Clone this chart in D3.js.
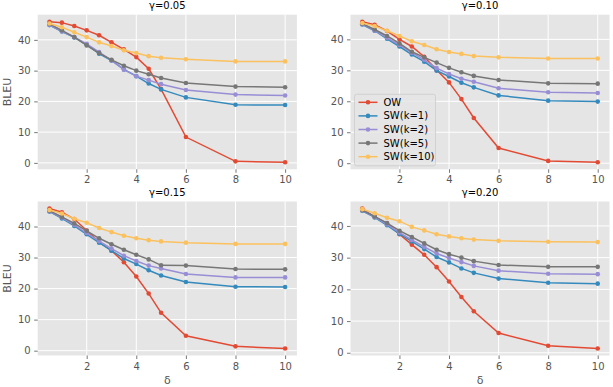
<!DOCTYPE html>
<html>
<head>
<meta charset="utf-8">
<script src="https://cdn.jsdelivr.net/npm/d3@7"></script>
<style>
body { margin: 0; background: #fff; }
text { font-family: "DejaVu Sans", sans-serif; }
</style>
</head>
<body>
<svg id="chart" width="613" height="387"></svg>
<script>
// x values (delta)
const deltas = [0.5, 1, 1.5, 2, 2.5, 3, 3.5, 4, 4.5, 5, 6, 8, 10];
const seriesNames = ["OW", "SW(k=1)", "SW(k=2)", "SW(k=5)", "SW(k=10)"];
const seriesColors = ["#E24A33", "#348ABD", "#988ED5", "#777777", "#FBC15E"];
const gammas = ["γ=0.05", "γ=0.10", "γ=0.15", "γ=0.20"];
const xTicks = [2, 4, 6, 8, 10];
const yTicks = [0, 10, 20, 30, 40];

// gamma = 0.05
const ow_005  = [45.9, 45.6, 44.5, 43.1, 41.5, 39.2, 36.9, 34.4, 30.6, 24.0, 8.4, 0.5, 0.2];
const sw1_005 = [44.8, 42.7, 40.8, 38.4, 35.5, 33.3, 30.4, 28.2, 25.8, 23.9, 21.3, 18.9, 18.8];
const sw2_005 = [44.9, 42.8, 40.9, 38.7, 36.0, 33.3, 30.3, 28.2, 26.9, 25.6, 23.7, 22.2, 21.9];
const sw5_005 = [45.2, 43.1, 40.9, 38.2, 35.7, 33.5, 31.6, 30.0, 28.8, 27.6, 26.0, 24.8, 24.6];
const sw10_005 = [45.3, 44.1, 42.5, 40.9, 39.2, 38.0, 36.6, 35.7, 34.7, 34.2, 33.7, 33.0, 33.0];

// gamma = 0.10
const ow_010  = [45.7, 44.7, 42.7, 40.0, 37.7, 34.4, 30.1, 26.1, 20.7, 14.6, 4.9, 0.75, 0.3];
const sw1_010 = [44.8, 42.8, 40.2, 37.7, 35.1, 32.8, 29.9, 28.0, 26.0, 24.5, 21.9, 20.2, 19.9];
const sw2_010 = [44.9, 42.9, 40.5, 38.2, 35.7, 33.4, 30.7, 28.8, 27.3, 26.3, 24.2, 22.9, 22.7];
const sw5_010 = [45.1, 43.2, 41.1, 38.7, 36.0, 34.2, 32.5, 30.8, 29.4, 28.2, 26.9, 25.8, 25.7];
const sw10_010 = [45.3, 44.3, 42.8, 41.1, 39.4, 38.2, 36.8, 35.9, 35.3, 34.6, 34.2, 33.8, 33.8];

// gamma = 0.15
const ow_015  = [45.8, 44.6, 42.4, 38.7, 35.0, 32.2, 28.5, 23.9, 18.4, 12.2, 4.8, 1.4, 0.7];
const sw1_015 = [44.8, 42.6, 40.2, 37.5, 34.8, 32.2, 29.7, 27.9, 25.9, 24.2, 22.1, 20.6, 20.5];
const sw2_015 = [44.9, 42.9, 40.5, 37.9, 35.3, 32.9, 30.6, 28.9, 27.4, 26.5, 24.7, 23.6, 23.6];
const sw5_015 = [45.1, 43.1, 41.0, 38.6, 36.2, 34.3, 32.5, 30.9, 29.4, 27.5, 27.4, 26.3, 26.2];
const sw10_015 = [45.3, 44.2, 42.5, 41.2, 39.5, 38.2, 37.0, 36.2, 35.6, 35.2, 34.8, 34.4, 34.4];

// gamma = 0.20
const ow_020  = [45.5, 42.8, 40.8, 37.4, 34.1, 30.9, 27.0, 22.5, 17.6, 13.1, 6.25, 2.2, 1.35];
const sw1_020 = [44.8, 42.7, 40.2, 37.5, 35.1, 32.7, 30.2, 28.5, 26.6, 25.2, 23.4, 22.1, 21.8];
const sw2_020 = [44.9, 42.9, 40.5, 37.9, 35.6, 33.4, 31.3, 29.9, 28.6, 27.4, 25.9, 24.9, 24.8];
const sw5_020 = [45.0, 43.0, 40.9, 38.5, 36.5, 34.5, 32.5, 31.1, 30.0, 28.9, 27.7, 27.1, 27.1];
const sw10_020 = [45.3, 44.0, 42.6, 41.5, 39.7, 38.6, 37.4, 36.7, 36.1, 35.7, 35.3, 35.0, 34.9];

const panelData = [
  [ow_005, sw1_005, sw2_005, sw5_005, sw10_005],
  [ow_010, sw1_010, sw2_010, sw5_010, sw10_010],
  [ow_015, sw1_015, sw2_015, sw5_015, sw10_015],
  [ow_020, sw1_020, sw2_020, sw5_020, sw10_020]
];

// layout of the 2x2 grid
const cols = [[37.7, 296.9], [350.5, 609.5]];
const rows = [[14.7, 169.3], [201.5, 355.5]];

const svg = d3.select("#chart");

// matplotlib-like autoscale with 5% margins
function padded(ext) {
  const r = ext[1] - ext[0];
  return [ext[0] - 0.05 * r, ext[1] + 0.05 * r];
}

gammas.forEach(function(title, p) {
  const col = p % 2, row = Math.floor(p / 2);
  const x0 = cols[col][0], x1 = cols[col][1];
  const y0 = rows[row][0], y1 = rows[row][1];
  const series = panelData[p];

  const x = d3.scaleLinear().domain(padded(d3.extent(deltas))).range([x0, x1]);
  const allY = [].concat.apply([], series);
  const y = d3.scaleLinear().domain(padded(d3.extent(allY))).range([y1, y0]);

  const g = svg.append("g");

  // background
  g.append("rect")
    .attr("x", x0).attr("y", y0)
    .attr("width", x1 - x0).attr("height", y1 - y0)
    .attr("fill", "#E5E5E5");

  // grid
  g.selectAll("line.gx").data(xTicks).enter().append("line")
    .attr("x1", d => x(d)).attr("x2", d => x(d))
    .attr("y1", y0).attr("y2", y1)
    .attr("stroke", "#fff").attr("stroke-width", 1);
  g.selectAll("line.gy").data(yTicks).enter().append("line")
    .attr("y1", d => y(d)).attr("y2", d => y(d))
    .attr("x1", x0).attr("x2", x1)
    .attr("stroke", "#fff").attr("stroke-width", 1);

  // axes
  const xAxis = d3.axisBottom(x).tickValues(xTicks).tickSize(3.5).tickPadding(3.5);
  const yAxis = d3.axisLeft(y).tickValues(yTicks).tickSize(3.5).tickPadding(3.5);
  const gx = g.append("g").attr("transform", "translate(0," + y1 + ")").call(xAxis);
  const gy = g.append("g").attr("transform", "translate(" + x0 + ",0)").call(yAxis);
  [gx, gy].forEach(function(a) {
    a.select(".domain").remove();
    a.selectAll(".tick line").attr("stroke", "#555").attr("stroke-width", 0.8);
    a.selectAll(".tick text").attr("fill", "#555").style("font-size", "10px")
      .style("font-family", "DejaVu Sans, sans-serif");
  });

  // title
  g.append("text")
    .attr("x", (x0 + x1) / 2).attr("y", y0 - 6)
    .attr("text-anchor", "middle")
    .style("font-size", "10px").attr("fill", "#000")
    .text(title);

  if (col === 0) {
    g.append("text")
      .attr("transform", "translate(10.5," + ((y0 + y1) / 2) + ") rotate(-90)")
      .attr("text-anchor", "middle")
      .style("font-size", "11px").attr("fill", "#555")
      .text("BLEU");
  }
  if (row === 1) {
    g.append("text")
      .attr("x", (x0 + x1) / 2).attr("y", 384)
      .attr("text-anchor", "middle")
      .style("font-size", "11px").attr("fill", "#555")
      .text("δ");
  }

  const line = d3.line().x((d, i) => x(deltas[i])).y(d => y(d));

  series.forEach(function(vals, s) {
    const sg = g.append("g");
    sg.append("path")
      .attr("d", line(vals))
      .attr("fill", "none")
      .attr("stroke", seriesColors[s])
      .attr("stroke-width", 1.5);
    sg.selectAll("circle").data(vals).enter().append("circle")
      .attr("cx", (d, i) => x(deltas[i]))
      .attr("cy", d => y(d))
      .attr("r", 2.3)
      .attr("fill", seriesColors[s]);
  });

  // legend in the top-right panel
  if (p === 1) {
    const lx = x0 + 4, ly = y1 - 75;
    const lg = g.append("g");
    lg.append("rect")
      .attr("x", lx).attr("y", ly)
      .attr("width", 81).attr("height", 71.5)
      .attr("rx", 2)
      .attr("fill", "#E5E5E5").attr("fill-opacity", 0.8)
      .attr("stroke", "#cccccc").attr("stroke-width", 0.8);
    seriesNames.forEach(function(name, s) {
      const yy = ly + 8 + s * 13.6;
      lg.append("line")
        .attr("x1", lx + 4).attr("x2", lx + 23)
        .attr("y1", yy).attr("y2", yy)
        .attr("stroke", seriesColors[s]).attr("stroke-width", 1.5);
      lg.append("circle")
        .attr("cx", lx + 13.5).attr("cy", yy).attr("r", 2.3)
        .attr("fill", seriesColors[s]);
      lg.append("text")
        .attr("x", lx + 29).attr("y", yy).attr("dy", "0.35em")
        .style("font-size", "10px").attr("fill", "#000")
        .text(name);
    });
  }
});
</script>
</body>
</html>
